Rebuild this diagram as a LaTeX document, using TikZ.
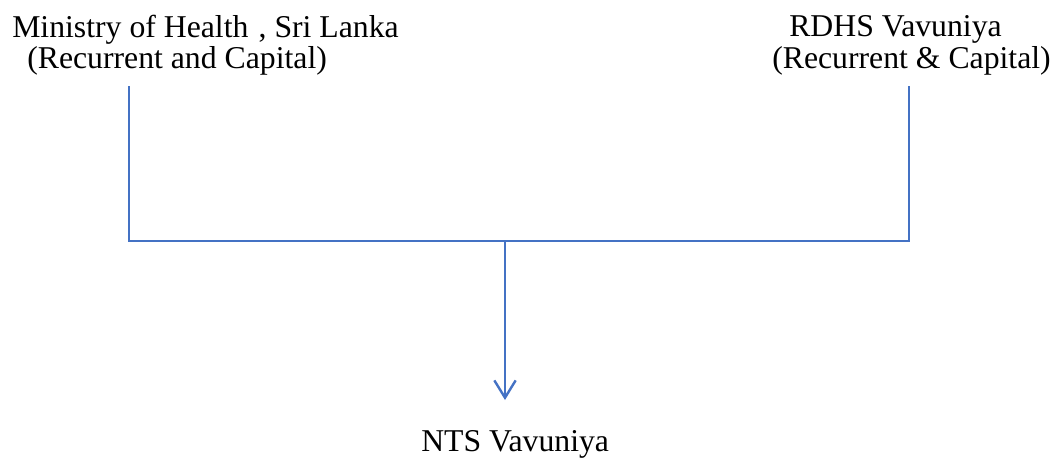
\documentclass[tikz,border=0pt]{standalone}
\usepackage{fontspec}
\setmainfont{Liberation Serif}
\usepackage{tikz}
\usetikzlibrary{arrows.meta}
\definecolor{linkblue}{HTML}{4472C4}
\tikzset{
  lbl/.style={anchor=base west, inner sep=0pt, font=\fontsize{23.8pt}{28pt}\selectfont},
  link/.style={draw=linkblue, line width=1.1pt},
  flow/.style={draw=linkblue, line width=1.8pt, -{Straight Barb[length=13pt, width=16pt, line width=1.8pt]}}
}

\begin{document}
\begin{tikzpicture}[x=0.75pt, y=-0.75pt]
        \useasboundingbox (0,0) rectangle (1051,458);

        % sources
        \node[lbl] (moh)  at (12,37)  {Ministry of Health\hspace{0.32em}, Sri Lanka};
        \node[lbl] (mohb) at (27,68)  {(Recurrent and Capital)};
        \node[lbl] (rdhs) at (789,36) {RDHS Vavuniya};
        \node[lbl] (rdhsb) at (772,68) {(Recurrent \& Capital)};

        % target
        \node[lbl] (nts) at (421,451) {NTS Vavuniya};

        % junction points
        \coordinate (ltop) at (129,86);
        \coordinate (lbot) at (129,241);
        \coordinate (rtop) at (909,86);
        \coordinate (rbot) at (909,241);
        \coordinate (mid)  at (505,241);
        \coordinate (tip)  at (505,400);

        \draw[link] (ltop) -- (lbot) -- (rbot) -- (rtop);
        \draw[flow] (mid) -- (tip);
    \end{tikzpicture}
\end{document}
